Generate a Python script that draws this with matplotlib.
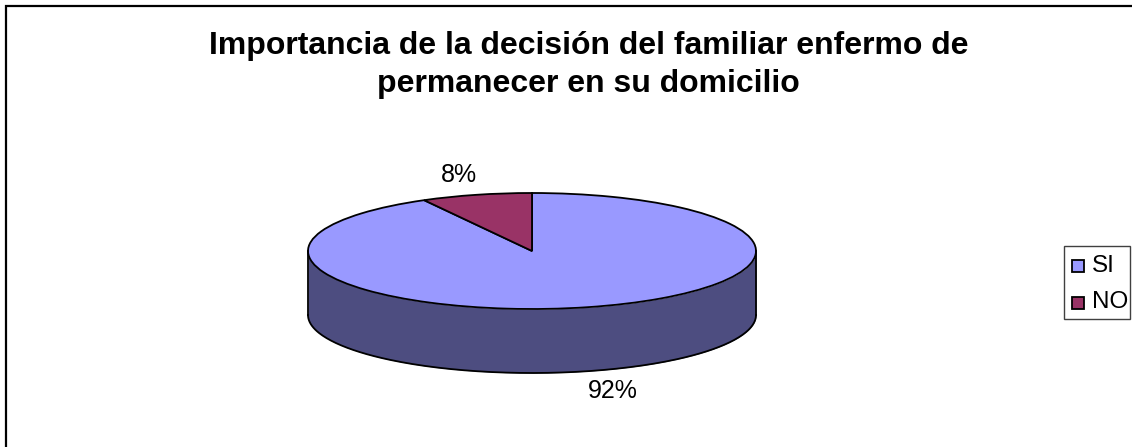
import numpy as np
import matplotlib
matplotlib.use("Agg")
import matplotlib.pyplot as plt
from matplotlib.patches import Rectangle

plt.rcParams['font.family'] = ['Liberation Sans', 'DejaVu Sans']

# Datos del grafico
categorias = ['SI', 'NO']
valores = [92, 8]
etiquetas = ['92%', '8%']
colores = ['#9999FF', '#993366']
color_lado = '#4D4D80'
titulo = 'Importancia de la decisión del familiar enfermo de\npermanecer en su domicilio'

W, H = 1132, 447
fig = plt.figure(figsize=(W / 100, H / 100), dpi=100)
fondo = fig.add_axes([0, 0, 1, 1])
fondo.set_xlim(0, W)
fondo.set_ylim(H, 0)
fondo.axis('off')

# marco del grafico
fondo.plot([6, 6, W], [H, 6, 6], color='black', lw=1.6, solid_joinstyle='miter')

fondo.text(588.5, 65, titulo, ha='center', va='center', fontsize=23,
           fontweight='bold', linespacing=1.33)

# la tarta: ejes propios, en unidades del radio
cx, cy, rx, ry, prof = 532, 251, 224, 58, 64
ax = fig.add_axes([(cx - rx) / W, 1 - (cy + ry + prof) / H,
                   2 * rx / W, (2 * ry + prof) / H])
ax.pie(valores, colors=colores, startangle=90, counterclock=False, radius=1,
       wedgeprops={'edgecolor': 'black', 'linewidth': 1.3})
ax.set_aspect('auto')
ax.set_xlim(-1, 1)
ax.set_ylim(-1 - prof / ry, 1)
ax.axis('off')

# lado de la tarta (media elipse de delante)
t = np.linspace(np.pi, 2 * np.pi, 200)
ax.fill_between(np.cos(t), np.sin(t), np.sin(t) - prof / ry, color=color_lado,
                zorder=0.5, lw=0, clip_on=False)
ax.plot(np.cos(t), np.sin(t) - prof / ry, color='black', lw=1.3, clip_on=False)
ax.plot([-1, -1], [0, -prof / ry], color='black', lw=1.3, clip_on=False)
ax.plot([1, 1], [0, -prof / ry], color='black', lw=1.3, clip_on=False)

fondo.text(459, 175, etiquetas[1], ha='center', va='center', fontsize=18)
fondo.text(613, 391, etiquetas[0], ha='center', va='center', fontsize=18)

# leyenda
fondo.add_patch(Rectangle((1064, 246), 66, 73, fc='white', ec='#404040', lw=1))
for cat, col, y in zip(categorias, colores, [265.5, 302.5]):
    fondo.add_patch(Rectangle((1072, y - 6), 12, 12, fc=col, ec='black', lw=1.3))
    fondo.text(1092, y, cat, ha='left', va='center', fontsize=17.5)

fig.savefig('out.png', dpi=100)
